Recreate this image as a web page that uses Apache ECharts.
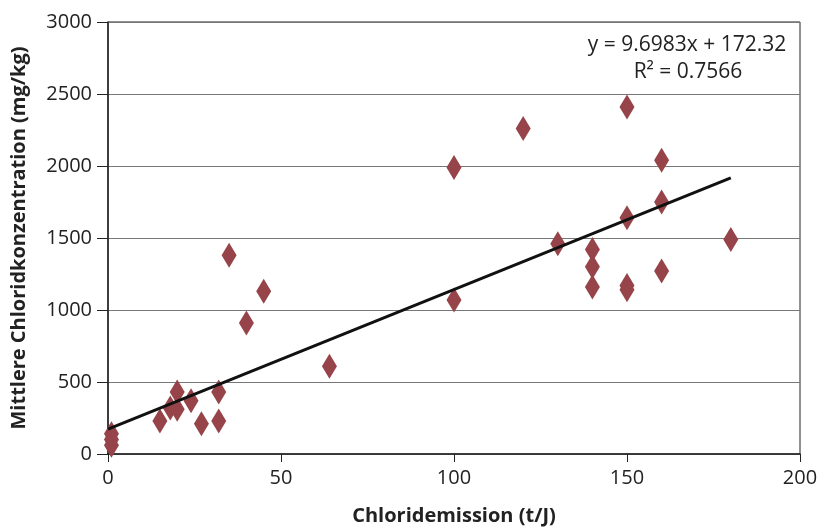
<!DOCTYPE html>
<html>
<head>
<meta charset="utf-8">
<script src="https://cdn.jsdelivr.net/npm/echarts@6/dist/echarts.min.js"></script>
<style>html,body{margin:0;padding:0;background:#fff}#c{width:819px;height:528px}</style>
</head>
<body>
<div id="c"></div>
<script>
const emission = [1, 1, 1, 15, 18, 20, 20, 24, 27, 32, 32, 35, 40, 45, 64, 100, 100, 120, 130, 140, 140, 140, 150, 150, 150, 150, 160, 160, 160, 180];
const concentration = [140, 100, 60, 230, 320, 430, 310, 370, 210, 430, 230, 1380, 910, 1130, 610, 1990, 1070, 2260, 1460, 1420, 1300, 1160, 2410, 1640, 1170, 1140, 2040, 1750, 1270, 1490];
const slope = 9.6983;
const intercept = 172.32;
const rSquared = 0.7566;
const trendRange = [0, 180];
const xTicks = [0, 50, 100, 150, 200];
const yTicks = [0, 500, 1000, 1500, 2000, 2500, 3000];

const font = 'Open Sans';
const points = emission.map((x, i) => [x, concentration[i]]);
const trend = trendRange.map(x => [x, slope * x + intercept]);

const chart = echarts.init(document.getElementById('c'));
chart.setOption({
  animation: false,
  grid: { left: 108, right: 19, top: 22, bottom: 74, show: true, borderColor: '#222', borderWidth: 1, containLabel: false, outerBoundsMode: 'none' },
  xAxis: {
    type: 'value', min: xTicks[0], max: xTicks[xTicks.length - 1], interval: 50,
    name: 'Chloridemission (t/J)', nameLocation: 'middle', nameGap: 52,
    nameTextStyle: { fontFamily: font, fontWeight: 'bold', fontSize: 20, color: '#222' },
    axisLine: { lineStyle: { color: '#222', width: 1.5 } },
    axisTick: { length: 8, lineStyle: { color: '#222' } },
    axisLabel: { fontFamily: font, fontSize: 20, color: '#222', margin: 14, formatter: v => String(v) },
    splitLine: { show: false }
  },
  yAxis: {
    type: 'value', min: yTicks[0], max: yTicks[yTicks.length - 1], interval: 500,
    name: 'Mittlere Chloridkonzentration (mg/kg)', nameLocation: 'middle', nameGap: 79,
    nameTextStyle: { fontFamily: font, fontWeight: 'bold', fontSize: 20, color: '#222' },
    axisLine: { show: true, lineStyle: { color: '#222', width: 1.5 } },
    axisTick: { show: true, length: 11, lineStyle: { color: '#222' } },
    axisLabel: { fontFamily: font, fontSize: 20, color: '#222', margin: 16, formatter: v => String(v) },
    splitLine: { show: true, lineStyle: { color: '#777', width: 1 } }
  },
  series: [
    {
      type: 'scatter', data: points, symbol: 'diamond', symbolSize: [15, 25],
      itemStyle: { color: '#964449', opacity: 1 }, z: 3
    },
    {
      type: 'line', data: trend, symbol: 'none', lineStyle: { color: '#111', width: 3 }, z: 4
    }
  ],
  graphic: [
    { type: 'text', x: 687, y: 45, style: { text: 'y = ' + slope + 'x + ' + intercept, align: 'center', verticalAlign: 'middle', fontFamily: font, fontSize: 21, fill: '#222' } },
    { type: 'text', x: 688, y: 72, style: { text: 'R² = ' + rSquared, align: 'center', verticalAlign: 'middle', fontFamily: font, fontSize: 21, fill: '#222' } }
  ]
});
</script>
</body>
</html>
